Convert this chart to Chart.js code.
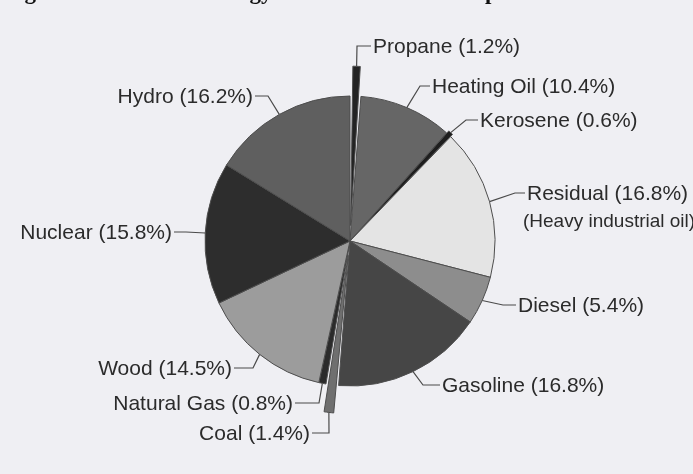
<!DOCTYPE html>
<html>
<head>
<meta charset="utf-8">
<script src="https://cdn.jsdelivr.net/npm/chart.js@4"></script>
<style>
  body { margin: 0; background: #efeff3; }
  canvas { display: block; }
</style>
</head>
<body>
<canvas id="energiaChart" width="693" height="474"></canvas>
<script>
const ctx = document.getElementById('energiaChart').getContext('2d');

// energy sources, clockwise from 12 o'clock
const fontes = ['Propane', 'Heating Oil', 'Kerosene', 'Residual', 'Diesel', 'Gasoline',
                'Coal', 'Natural Gas', 'Wood', 'Nuclear', 'Hydro'];
const percentuais = [1.2, 10.4, 0.6, 16.8, 5.4, 16.8, 1.4, 0.8, 14.5, 15.8, 16.2];
const notas = ['', '', '', '(Heavy industrial oil)', '', '', '', '', '', '', ''];
const tituloTexto = 'Figure 1: Canadian Energy Sources and Consumption';

// look of each slice
const cores = ['#232323', '#666666', '#1e1e1e', '#e4e4e4', '#8d8d8d', '#464646',
               '#6f6f6f', '#2b2b2b', '#9c9c9c', '#2d2d2d', '#5f5f5f'];
// chart.js pushes a slice out by roughly offset/2
const destaque = [62, 0, 6, 0, 0, 0, 58, 0, 0, 0, 0];

// where each label sits: x, y, side of the leader, length of the flat part
const rotulos = [
    { x: 373, y: 47, lado: 'left', seg: 14 },
    { x: 432, y: 87, lado: 'left', seg: 10 },
    { x: 480, y: 121, lado: 'left', seg: 12 },
    { x: 527, y: 194, lado: 'left', seg: 10 },
    { x: 518, y: 306, lado: 'left', seg: 13 },
    { x: 442, y: 386, lado: 'left', seg: 17 },
    { x: 310, y: 434, lado: 'right', seg: 17 },
    { x: 293, y: 404, lado: 'right', seg: 24 },
    { x: 232, y: 369, lado: 'right', seg: 19 },
    { x: 172, y: 233, lado: 'right', seg: 12 },
    { x: 253, y: 97, lado: 'right', seg: 13 }
];

const rotulosPlugin = {
    id: 'rotulos',
    afterDraw(chart) {
        const c = chart.ctx;
        const arcos = chart.getDatasetMeta(0).data;
        c.save();
        c.font = '21px "Liberation Sans", Arial, sans-serif';
        c.textBaseline = 'middle';
        c.fillStyle = '#2b2b2b';
        c.strokeStyle = '#4a4a4a';
        c.lineWidth = 1.2;
        arcos.forEach((arco, i) => {
            const r = rotulos[i];
            const texto = fontes[i] + ' (' + percentuais[i] + '%)';
            const meio = (arco.startAngle + arco.endAngle) / 2;
            // same push-out that the arc element uses when drawing
            const off = (arco.options.offset || 0) / 4;
            const fix = 1 - Math.sin(Math.min(Math.PI, arco.circumference || 0));
            const raio = arco.outerRadius + off + off * fix;
            const ax = arco.x + Math.cos(meio) * raio;
            const ay = arco.y + Math.sin(meio) * raio;
            let borda;
            if (r.lado === 'left') {
                c.textAlign = 'left';
                borda = r.x - 2;
            } else {
                c.textAlign = 'right';
                borda = r.x + 2;
            }
            const cotovelo = r.lado === 'left' ? borda - r.seg : borda + r.seg;
            c.beginPath();
            c.moveTo(borda, r.y - 1);
            c.lineTo(cotovelo, r.y - 1);
            c.lineTo(ax, ay);
            c.stroke();
            c.fillText(texto, r.x, r.y);
            if (notas[i]) {
                c.font = '19px "Liberation Sans", Arial, sans-serif';
                c.fillText(notas[i], r.x - 4, r.y + 28);
                c.font = '21px "Liberation Sans", Arial, sans-serif';
            }
        });
        // title, mostly cut off by the top edge
        c.font = 'bold 23px "Liberation Serif", "Times New Roman", serif';
        c.textAlign = 'left';
        c.textBaseline = 'alphabetic';
        c.fillStyle = '#111';
        c.fillText(tituloTexto, 4, -1);
        c.restore();
    }
};

const config = {
    type: 'pie',
    data: {
        labels: fontes,
        datasets: [{
            data: percentuais,
            backgroundColor: cores,
            borderColor: '#4d4d4d',
            borderWidth: 1,
            offset: destaque,
            radius: 145
        }]
    },
    options: {
        responsive: false,
        animation: false,
        layout: { padding: { left: 7, right: 0, top: 8, bottom: 0 } },
        plugins: {
            legend: { display: false },
            tooltip: { enabled: false }
        }
    },
    plugins: [rotulosPlugin]
};

const energiaChart = new Chart(ctx, config);
</script>
</body>
</html>
